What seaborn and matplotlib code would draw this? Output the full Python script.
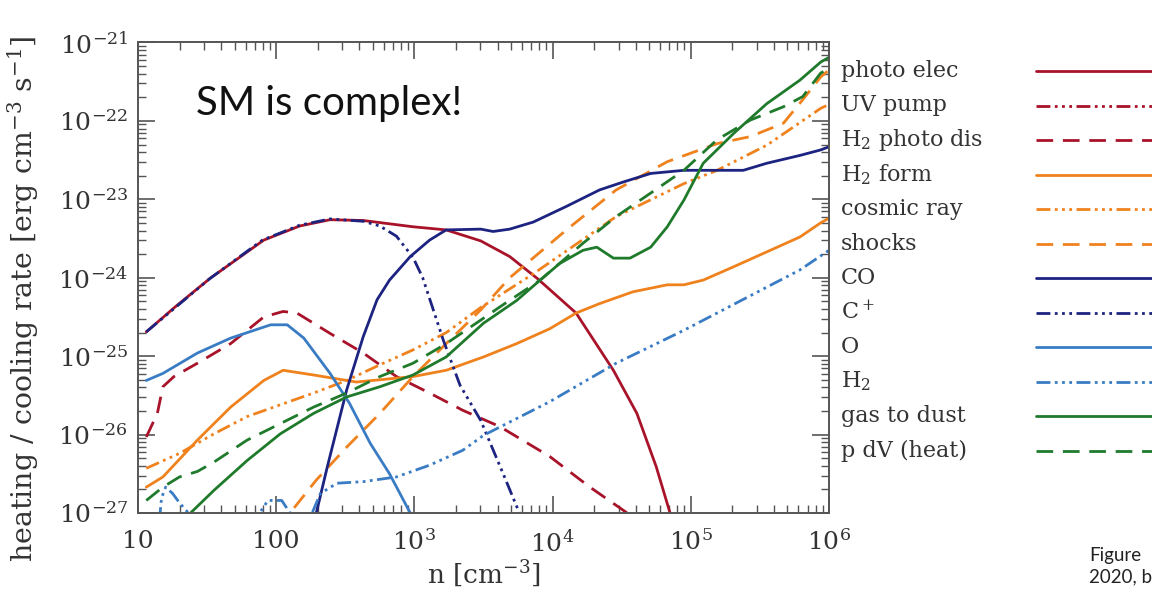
import numpy as np
import pandas as pd
import matplotlib.pyplot as plt
from matplotlib.lines import Line2D
from matplotlib.ticker import LogLocator, NullFormatter
import seaborn as sns

# processes in legend order
processes = ['photo elec', 'UV pump', 'H2 photo dis', 'H2 form', 'cosmic ray', 'shocks',
             'CO', 'C+', 'O', 'H2', 'gas to dust', 'p dV (heat)']
legend_labels = ['photo elec', 'UV pump', 'H$_2$ photo dis', 'H$_2$ form', 'cosmic ray', 'shocks',
                 'CO', 'C$^+$', 'O', 'H$_2$', 'gas to dust', 'p dV (heat)']

x_tick_values = [1e1, 1e2, 1e3, 1e4, 1e5, 1e6]
x_tick_labels = ['10', '100', '10$^3$', '10$^4$', '10$^5$', '10$^6$']
y_tick_values = [1e-21, 1e-22, 1e-23, 1e-24, 1e-25, 1e-26, 1e-27]
y_tick_labels = ['10$^{-21}$', '10$^{-22}$', '10$^{-23}$', '10$^{-24}$',
                 '10$^{-25}$', '10$^{-26}$', '10$^{-27}$']

# curves, as log10(n) and log10(rate)
photo_elec_logn = [1.06, 1.27, 1.52, 1.91, 2.17, 2.39, 2.63, 2.99, 3.23, 3.48, 3.69, 3.89,
                   4.17, 4.44, 4.61, 4.75, 4.85, 4.92]
photo_elec_lograte = [-24.69, -24.37, -24.01, -23.52, -23.34, -23.26, -23.27, -23.35, -23.39,
                      -23.53, -23.73, -24.01, -24.45, -25.18, -25.73, -26.41, -27.0, -27.5]

uv_pump_logn = [1.06, 3.0, 6.0]
uv_pump_lograte = [-27.9, -27.7, -27.6]

h2_photo_dis_logn = [1.06, 1.14, 1.18, 1.26, 1.43, 1.67, 1.91, 2.05, 2.15, 2.39, 2.63, 2.87,
                     3.11, 3.35, 3.62, 3.98, 4.27, 4.54, 4.65]
h2_photo_dis_lograte = [-26.03, -25.73, -25.39, -25.26, -25.09, -24.84, -24.50, -24.43, -24.45,
                        -24.71, -24.96, -25.26, -25.47, -25.69, -25.90, -26.28, -26.67, -27.0,
                        -27.2]

h2_form_logn = [1.06, 1.18, 1.43, 1.67, 1.91, 2.05, 2.27, 2.58, 2.99, 3.23, 3.50, 3.74, 3.98,
                4.17, 4.34, 4.58, 4.83, 4.95, 5.09, 5.31, 5.55, 5.79, 5.94, 6.0]
h2_form_lograte = [-26.67, -26.54, -26.07, -25.65, -25.31, -25.18, -25.24, -25.33, -25.26,
                   -25.18, -25.01, -24.84, -24.65, -24.45, -24.33, -24.18, -24.09, -24.09,
                   -24.03, -23.86, -23.67, -23.48, -23.30, -23.24]

cosmic_ray_logn = [1.06, 1.30, 1.55, 1.79, 2.03, 2.27, 2.51, 2.75, 2.99, 3.23, 3.48, 3.86,
                   4.46, 4.95, 5.19, 5.55, 5.94, 6.0]
cosmic_ray_lograte = [-26.43, -26.24, -25.99, -25.77, -25.62, -25.47, -25.31, -25.11, -24.92,
                      -24.70, -24.38, -23.95, -23.22, -22.80, -22.63, -22.31, -21.84, -21.79]

shocks_logn = [2.03, 2.10, 2.29, 2.51, 2.75, 2.99, 3.23, 3.48, 3.69, 4.10, 4.46, 4.83, 5.19,
               5.43, 5.67, 5.81, 5.94, 6.0]
shocks_lograte = [-27.22, -27.0, -26.58, -26.16, -25.73, -25.26, -24.84, -24.41, -24.00,
                  -23.39, -22.88, -22.52, -22.29, -22.20, -22.03, -21.73, -21.44, -21.35]

co_logn = [2.25, 2.29, 2.37, 2.51, 2.63, 2.73, 2.82, 2.97, 3.11, 3.23, 3.48, 3.57, 3.69, 3.86,
           4.10, 4.34, 4.51, 4.71, 4.95, 5.19, 5.38, 5.55, 5.79, 5.94, 6.0]
co_lograte = [-27.35, -27.0, -26.41, -25.43, -24.75, -24.28, -24.03, -23.73, -23.52, -23.39,
              -23.38, -23.41, -23.38, -23.29, -23.09, -22.88, -22.78, -22.67, -22.63, -22.63,
              -22.63, -22.54, -22.44, -22.37, -22.33]

c_plus_logn = [1.06, 1.27, 1.52, 1.90, 2.17, 2.39, 2.63, 2.75, 2.87, 2.99, 3.06, 3.21, 3.33,
               3.48, 3.64, 3.76, 3.84]
c_plus_lograte = [-24.69, -24.38, -24.01, -23.52, -23.33, -23.25, -23.28, -23.34, -23.47,
                  -23.74, -24.00, -24.80, -25.37, -25.82, -26.49, -27.0, -27.35]

o_logn = [1.06, 1.18, 1.43, 1.67, 1.96, 2.08, 2.20, 2.39, 2.53, 2.68, 2.82, 2.97, 3.04]
o_lograte = [-25.31, -25.22, -24.96, -24.77, -24.60, -24.60, -24.77, -25.22, -25.60, -26.11,
             -26.50, -27.0, -27.35]

h2_logn = [1.09, 1.16, 1.17, 1.20, 1.25, 1.30, 1.38, 1.52, 1.74, 1.88, 1.94, 2.04, 2.10, 2.17,
           2.26, 2.32, 2.44, 2.63, 2.87, 3.11, 3.35, 3.50, 3.98, 4.46, 4.95, 5.43, 5.79, 6.0]
h2_lograte = [-27.6, -27.0, -26.81, -26.67, -26.75, -26.87, -27.03, -27.41, -27.41, -27.0,
              -26.84, -26.84, -27.0, -27.35, -27.0, -26.75, -26.62, -26.60, -26.54, -26.39,
              -26.20, -26.01, -25.58, -25.09, -24.67, -24.23, -23.90, -23.65]

gas_dust_logn = [1.27, 1.38, 1.55, 1.79, 2.03, 2.27, 2.51, 2.75, 2.99, 3.23, 3.50, 3.74, 3.91,
                 4.05, 4.22, 4.32, 4.44, 4.56, 4.71, 4.83, 4.95, 5.09, 5.31, 5.55, 5.79, 5.94,
                 6.0]
gas_dust_lograte = [-27.41, -27.0, -26.71, -26.33, -25.99, -25.73, -25.52, -25.39, -25.24,
                    -25.01, -24.58, -24.29, -24.03, -23.82, -23.65, -23.61, -23.75, -23.75,
                    -23.61, -23.35, -23.01, -22.54, -22.16, -21.78, -21.48, -21.25, -21.19]

pdv_logn = [1.06, 1.18, 1.30, 1.43, 1.55, 1.79, 2.03, 2.27, 2.51, 2.75, 2.99, 3.23, 3.48, 3.62,
            3.91, 4.22, 4.46, 4.71, 4.95, 5.19, 5.43, 5.67, 5.81, 5.94, 6.0]
pdv_lograte = [-26.84, -26.67, -26.54, -26.47, -26.35, -26.07, -25.86, -25.65, -25.47, -25.26,
               -25.09, -24.84, -24.54, -24.37, -24.03, -23.56, -23.22, -22.92, -22.63, -22.24,
               -21.99, -21.82, -21.69, -21.39, -21.33]

curves = {
    'photo elec': (photo_elec_logn, photo_elec_lograte),
    'UV pump': (uv_pump_logn, uv_pump_lograte),
    'H2 photo dis': (h2_photo_dis_logn, h2_photo_dis_lograte),
    'H2 form': (h2_form_logn, h2_form_lograte),
    'cosmic ray': (cosmic_ray_logn, cosmic_ray_lograte),
    'shocks': (shocks_logn, shocks_lograte),
    'CO': (co_logn, co_lograte),
    'C+': (c_plus_logn, c_plus_lograte),
    'O': (o_logn, o_lograte),
    'H2': (h2_logn, h2_lograte),
    'gas to dust': (gas_dust_logn, gas_dust_lograte),
    'p dV (heat)': (pdv_logn, pdv_lograte),
}

# colours and line styles
red, orange, navy, blue, green = '#a8132a', '#f0821e', '#1c2380', '#3a7cc4', '#1f7a2b'
solid = ''
dashed = (6, 3.5)
dash3dot = (5, 1.6, 1, 1.6, 1, 1.6, 1, 1.6)
palette = {'photo elec': red, 'UV pump': red, 'H2 photo dis': red,
           'H2 form': orange, 'cosmic ray': orange, 'shocks': orange,
           'CO': navy, 'C+': navy, 'O': blue, 'H2': blue,
           'gas to dust': green, 'p dV (heat)': green}
dashes = {'photo elec': solid, 'UV pump': dash3dot, 'H2 photo dis': dashed,
          'H2 form': solid, 'cosmic ray': dash3dot, 'shocks': dashed,
          'CO': solid, 'C+': dash3dot, 'O': solid, 'H2': dash3dot,
          'gas to dust': solid, 'p dV (heat)': dashed}

# long-form table for seaborn
frames = []
for name in processes:
    logn, lograte = curves[name]
    frames.append(pd.DataFrame({'n': 10.0 ** np.array(logn),
                                'rate': 10.0 ** np.array(lograte),
                                'process': name}))
df = pd.concat(frames, ignore_index=True)

sns.set_style('white')
plt.rcParams['font.family'] = ['DejaVu Serif']
plt.rcParams['mathtext.fontset'] = 'dejavuserif'
text_col = '#333333'

fig, ax = plt.subplots(figsize=(11.52, 5.95), dpi=100)
fig.subplots_adjust(left=0.1198, right=0.7196, bottom=0.1378, top=0.9286)
ax.set_xscale('log')
ax.set_yscale('log')

sns.lineplot(data=df, x='n', y='rate', hue='process', style='process',
             hue_order=processes, style_order=processes, palette=palette,
             dashes=dashes, estimator=None, sort=False, linewidth=2.0,
             legend=False, ax=ax)

ax.set_xticks(x_tick_values, labels=x_tick_labels)
ax.set_yticks(y_tick_values, labels=y_tick_labels)
for axis in (ax.xaxis, ax.yaxis):
    axis.set_minor_locator(LogLocator(base=10, subs=np.arange(2, 10), numticks=100))
    axis.set_minor_formatter(NullFormatter())
ax.set_xlim(1e1, 1e6)
ax.set_ylim(1e-27, 1e-21)

ax.tick_params(which='both', direction='in', bottom=True, left=True, top=True, right=True,
               colors='#555555', labelcolor=text_col)
ax.tick_params(which='major', length=12, width=1.2, labelsize=18)
ax.tick_params(which='minor', length=6, width=1.0)
ax.tick_params(axis='x', which='major', pad=12)
ax.tick_params(axis='y', which='major', pad=7)
for sp in ax.spines.values():
    sp.set_color('#555555')
    sp.set_linewidth(1.4)

ax.set_xlabel('n [cm$^{-3}$]', fontsize=19, color=text_col)
ax.set_ylabel('heating / cooling rate [erg cm$^{-3}$ s$^{-1}$]', fontsize=20.5, color=text_col)
ax.xaxis.set_label_coords(0.5, -0.095)
ax.yaxis.set_label_coords(-0.14, 0.455)

ax.text(0.084, 0.871, 'SM is complex!', transform=ax.transAxes, fontsize=29,
        family='Lato', va='center', ha='left', color='#111111')

# legend outside the axes: label on the left, line sample on the right
for i, (name, label) in enumerate(zip(processes, legend_labels)):
    y = 1 - (71 + 34.5 * i) / 595
    fig.text(841 / 1152, y, label, fontsize=16, color=text_col, va='center', ha='left')
    ls = '-' if dashes[name] == solid else (0, dashes[name])
    fig.add_artist(Line2D([1036 / 1152, 1.0], [y, y], color=palette[name], lw=2.0,
                          linestyle=ls))

fig.text(1089 / 1152, 1 - 555 / 595, 'Figure', fontsize=13.5, family='Lato',
         color='#222222', va='center', ha='left')
fig.text(1089 / 1152, 1 - 577 / 595, '2020, b', fontsize=13.5, family='Lato',
         color='#222222', va='center', ha='left')

fig.savefig('out.png', dpi=100, facecolor='white')
